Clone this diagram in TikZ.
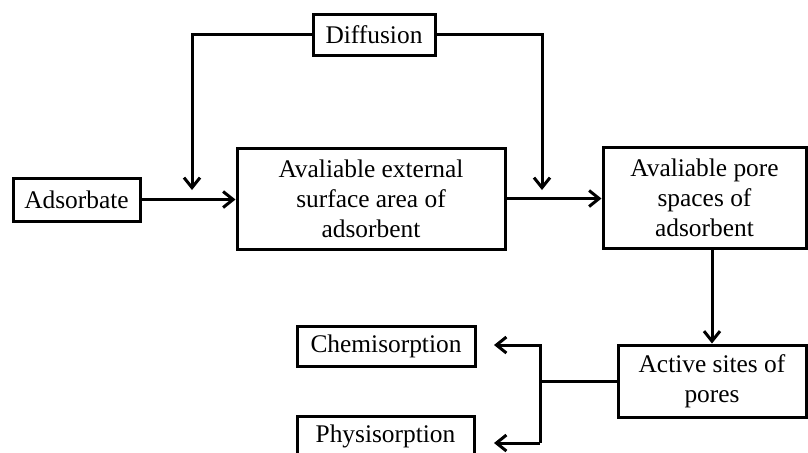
\documentclass[tikz,border=0pt]{standalone}
\usepackage{fontspec}
\setmainfont{Liberation Serif}
\usetikzlibrary{arrows.meta,calc}
\begin{document}
\begin{tikzpicture}[x=0.5pt,y=-0.5pt,
  box/.style={draw,line width=1.5pt,inner sep=0pt,align=center,
    font=\fontsize{12.7}{15}\selectfont},
  conn/.style={line width=1.5pt},
  arr/.style={conn,-{Straight Barb[length=5pt,width=8pt,line width=1.5pt]}}]
\useasboundingbox (0,0) rectangle (808,452);
\node[box,minimum width=61pt,minimum height=20.5pt] (diff) at (374,34.5) {Diffusion};
\node[box,minimum width=63.5pt,minimum height=21.5pt] (ads) at (76.5,199.5) {Adsorbate};
\node[box,minimum width=134pt,minimum height=50.5pt] (ext) at (371,198.5) {Avaliable external\\surface area of\\adsorbent};
\node[box,minimum width=101.5pt,minimum height=50.5pt] (pore) at (704.5,197.5) {Avaliable pore\\spaces of\\adsorbent};
\node[box,minimum width=94pt,minimum height=36pt] (act) at (712,381) {Active sites of\\pores};
\node[box,minimum width=89pt,minimum height=20pt] (chem) at (386,346) {Chemisorption};
\node[box,minimum width=88.5pt,minimum height=20pt] (phys) at (385.5,436) {Physisorption};
\coordinate (dl) at (192,190);
\coordinate (dr) at (542,190);
\coordinate (j) at (540,381);
\coordinate (bt) at (540,345);
\coordinate (bb) at (540,443);
\coordinate (cht) at (494,345);
\coordinate (pht) at (494,443);
\draw[arr] (diff.west) -| (dl);
\draw[arr] (diff.east) -| (dr);
\draw[arr] (ads.east) -- (ads.east -| ext.west);
\draw[arr] (ext.east) -- (ext.east -| pore.west);
\draw[arr] (act.north |- pore.south) -- (act.north);
\draw[conn] (act.west) -- (j);
\draw[arr] (bb) -- (bt) -- (cht);
\draw[arr] (bb) -- (pht);
\end{tikzpicture}
\end{document}
